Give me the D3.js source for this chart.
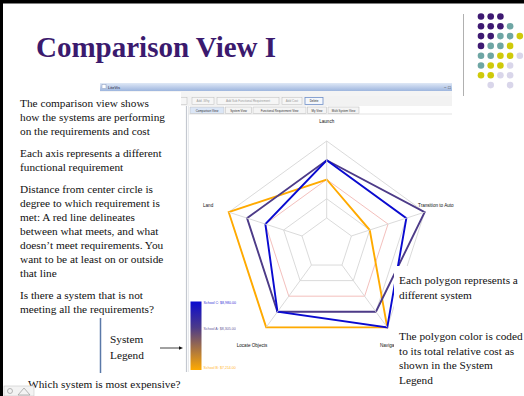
<!DOCTYPE html>
<html><head><meta charset="utf-8">
<script src="https://cdn.jsdelivr.net/npm/d3@7"></script>
<style>html,body{margin:0;padding:0;background:#fff;overflow:hidden}svg{display:block}</style>
</head><body>
<script>
// ---- data ----
const axes = ["Launch", "Transition to Auto", "Navigation", "Locate Objects", "Land"];
const systems = ["School B", "School A", "School C"];
const costs = [7214, 8305, 8980];
const schoolB = [2, 1, 4, 4, 4];
const schoolA = [3, 4, 3, 3, 3];
const schoolC = [3, 3, 4, 3, 2];
const levels = [0, 1, 2, 3, 4];
const redLevel = 2;
const tabs = ["Comparison View", "System View", "Functional Requirement View", "My View", "Multi System View"];
const buttons = ["Add -Why", "Add Sub Functional Requirement", "Add Cost", "Delete"];
const leftText = [
  ["The comparison view shows", "how the systems are performing", "on the requirements and cost"],
  ["Each axis represents a different", "functional requirement"],
  ["Distance from center circle is", "degree to which requirement is", "met:  A red line delineates", "between what meets, and what", "doesn\u2019t meet requirements.  You", "want to be at least on or outside", "that line"],
  ["Is there a system that is not", "meeting all the requirements?"]
];
const rightText = [
  ["Each polygon represents a", "different system"],
  ["The polygon color is coded", "to its total relative cost as", "shown in the System", "Legend"]
];
const dotRows = [
  ["p","p","p",null,null],
  ["p","p","p","t",null],
  ["p","p","t","t","y"],
  ["p","t","t","y",null],
  ["t","t","y","y","l"],
  ["t","y","y","l",null],
  ["y","y","l","l",null],
  [null,"l",null,"l",null]
];

const W = 524, H = 396;
const svg = d3.select("body").append("svg").attr("width", W).attr("height", H);
const defs = svg.append("defs");
const serif = "'Liberation Serif','Times New Roman',serif";
const sans = "'Liberation Sans',Arial,sans-serif";

// ---- application window ----
const tg = defs.append("linearGradient").attr("id","tb").attr("x1",0).attr("y1",0).attr("x2",0).attr("y2",1);
tg.append("stop").attr("offset",0).attr("stop-color","#dfe8f6");
tg.append("stop").attr("offset",1).attr("stop-color","#9db5de");
svg.append("rect").attr("x",100).attr("y",83).attr("width",352).attr("height",8).attr("fill","url(#tb)");
svg.append("rect").attr("x",102).attr("y",84.5).attr("width",4).attr("height",4).attr("fill","#fff").attr("stroke","#8899bb").attr("stroke-width",0.5);
svg.append("text").attr("x",108).attr("y",89).attr("font-family",sans).attr("font-size",4).attr("fill","#223").text("LiteVis");
svg.append("text").attr("x",444).attr("y",89).attr("font-family",sans).attr("font-size",4.5).attr("fill","#333").text("\u2212 \u25a1");
svg.append("rect").attr("x",100).attr("y",91).attr("width",352).attr("height",5).attr("fill","#f4f4f4");
svg.append("text").attr("x",103).attr("y",95).attr("font-family",sans).attr("font-size",3.5).attr("fill","#333").text("File");
svg.append("rect").attr("x",100).attr("y",96).attr("width",352).attr("height",300).attr("fill","#ffffff");
svg.append("rect").attr("x",100).attr("y",96).attr("width",352).attr("height",10).attr("fill","#f2f2f2");

// buttons
const btnX = d3.scaleOrdinal().domain(buttons).range([192, 217, 282, 305]);
const btnW = d3.scaleOrdinal().domain(buttons).range([22, 62, 20, 18]);
const bg = svg.append("g");
bg.append("rect").attr("x",178).attr("y",97.5).attr("width",9).attr("height",7).attr("fill","#f6f6f6").attr("stroke","#bbb").attr("stroke-width",0.5);
buttons.forEach((b,i)=>{
  bg.append("rect").attr("x",btnX(b)).attr("y",97.5).attr("width",btnW(b)).attr("height",7)
    .attr("fill", i===3 ? "#f4f7fc" : "#f6f6f6").attr("stroke", i===3 ? "#6f8fc8" : "#bbb").attr("stroke-width", i===3?0.8:0.5);
  bg.append("text").attr("x",btnX(b)+btnW(b)/2).attr("y",102.3).attr("text-anchor","middle")
    .attr("font-family",sans).attr("font-size",3).attr("fill", i===3 ? "#222" : "#999").text(b);
});
// tabs
const tabW = [34, 26, 53, 19, 31];
let tx = 190;
const tabG = svg.append("g");
tabs.forEach((t,i)=>{
  tabG.append("rect").attr("x",tx).attr("y",107).attr("width",tabW[i]).attr("height",6.5)
    .attr("fill", i===0 ? "#dbe6f6" : "#f4f4f4").attr("stroke","#b8b8b8").attr("stroke-width",0.5);
  tabG.append("text").attr("x",tx+tabW[i]/2).attr("y",111.6).attr("text-anchor","middle")
    .attr("font-family",sans).attr("font-size",2.9).attr("fill","#333").text(t);
  tx += tabW[i] + 1.5;
});
svg.append("line").attr("x1",188).attr("x2",452).attr("y1",114).attr("y2",114).attr("stroke","#d0d0d0").attr("stroke-width",0.6);
svg.append("line").attr("x1",186.5).attr("x2",186.5).attr("y1",106).attr("y2",372).attr("stroke","#c4c8d0").attr("stroke-width",1.2);
svg.append("line").attr("x1",188.5).attr("x2",188.5).attr("y1",106).attr("y2",372).attr("stroke","#e2e4e8").attr("stroke-width",0.8);

// ---- radar chart ----
const cx = 326.7, cy = 244;
const r = d3.scaleLinear().domain([0, 4]).range([26, 103]);
const ang = d3.scalePoint().domain(axes).range([0, 2*Math.PI*4/5]);
const pt = (a, v) => { const t = ang(a) - Math.PI/2; return [cx + r(v)*Math.cos(t), cy + r(v)*Math.sin(t)]; };
const radial = d3.lineRadial().curve(d3.curveLinearClosed);
const rg = svg.append("g").attr("transform", `translate(${cx},${cy})`);
levels.forEach(l => {
  rg.append("path").attr("d", radial(axes.map(a => [ang(a), r(l)])))
    .attr("fill","none").attr("stroke", l===redLevel ? "#f2b8b4" : "#d6d6d6").attr("stroke-width",0.9);
});
axes.forEach(a => {
  const p0 = pt(a, 0), p1 = pt(a, 4);
  svg.append("line").attr("x1",p0[0]).attr("y1",p0[1]).attr("x2",p1[0]).attr("y2",p1[1]).attr("stroke","#d6d6d6").attr("stroke-width",0.9);
});

const color = d3.scaleLinear().domain([costs[0], costs[1], costs[2]]).range(["#ffaa00", "#4d3b88", "#0a0ad0"]);
const seriesVals = [schoolB, schoolA, schoolC];
seriesVals.forEach((vals, i) => {
  rg.append("path").attr("d", radial(axes.map((a,k) => [ang(a), r(vals[k])])))
    .attr("fill","none").attr("stroke", color(costs[i])).attr("stroke-width",1.9).attr("stroke-linejoin","miter");
});

// axis labels
const lab = svg.append("g").attr("font-family",sans).attr("font-size",4.6).attr("fill","#111");
lab.append("text").attr("x",cx).attr("y",122.5).attr("text-anchor","middle").text(axes[0]);
lab.append("text").attr("x",418).attr("y",206.5).text(axes[1]);
lab.append("text").attr("x",380).attr("y",346.5).text(axes[2]);
lab.append("text").attr("x",252).attr("y",346.5).attr("text-anchor","middle").text(axes[3]);
lab.append("text").attr("x",203).attr("y",206.5).text(axes[4]);

// cost legend
const ly = d3.scaleLinear().domain([costs[2], costs[0]]).range([301.5, 370]);
const lgGrad = defs.append("linearGradient").attr("id","lg").attr("x1",0).attr("y1",0).attr("x2",0).attr("y2",1);
[costs[2], costs[1], costs[0]].forEach(c => {
  lgGrad.append("stop").attr("offset", (ly(c)-ly(costs[2]))/(ly(costs[0])-ly(costs[2]))).attr("stop-color", color(c));
});
svg.append("rect").attr("x",190.5).attr("y",ly(costs[2])).attr("width",11).attr("height",ly(costs[0])-ly(costs[2])).attr("fill","url(#lg)");
const fmt = d3.format("$,.2f");
systems.forEach((s,i) => {
  svg.append("text").attr("x",203.5).attr("y",ly(costs[i])+ (i===0 ? -1 : 2.5)).attr("font-family",sans).attr("font-size",3.6)
    .attr("fill", color(costs[i])).attr("opacity",0.85).text(`${s}: ${fmt(costs[i])}`);
});

// ---- slide overlay ----
svg.append("rect").attr("x",0).attr("y",92).attr("width",181).attr("height",304).attr("fill","#fff");
svg.append("rect").attr("x",394).attr("y",266).attr("width",130).attr("height",130).attr("fill","#fff");

svg.append("rect").attr("x",0).attr("y",0).attr("width",W).attr("height",3.5).attr("fill","#000");
svg.append("rect").attr("x",0).attr("y",0).attr("width",3).attr("height",H).attr("fill","#000");
svg.append("line").attr("x1",463.5).attr("x2",463.5).attr("y1",14).attr("y2",96).attr("stroke","#b0b0b0").attr("stroke-width",1);

const dotCol = {p:"#3e1a72", t:"#6ea6a4", y:"#cfca0a", l:"#d9d6ea"};
dotRows.forEach((row, i) => row.forEach((c, j) => {
  if (!c) return;
  svg.append("circle").attr("cx", 481 + j*9.7).attr("cy", 16.5 + i*9.8).attr("r", 3.3).attr("fill", dotCol[c]);
}));

svg.append("text").attr("x",36).attr("y",57).attr("font-family",serif).attr("font-weight","bold")
  .attr("font-size",29).attr("fill","#3b1a6e").text("Comparison View I");

const tfont = 11.3, lh = 14;
let y = 107;
const txt = svg.append("g").attr("font-family",serif).attr("font-size",tfont).attr("fill","#111");
leftText.forEach(par => {
  par.forEach(line => { txt.append("text").attr("x",20).attr("y",y).text(line); y += lh; });
  y += 8;
});
txt.append("text").attr("x",110).attr("y",343).text("System");
txt.append("text").attr("x",110).attr("y",359).text("Legend");
txt.append("text").attr("x",28).attr("y",388).text("Which system is most expensive?");
svg.append("line").attr("x1",100.5).attr("x2",100.5).attr("y1",318).attr("y2",373).attr("stroke","#5a78a8").attr("stroke-width",1.5);
svg.append("line").attr("x1",160).attr("x2",180).attr("y1",348).attr("y2",348).attr("stroke","#111").attr("stroke-width",0.8);
svg.append("path").attr("d","M183,348 L179,346.3 L179,349.7 Z").attr("fill","#111");

let y2 = 284;
rightText.forEach(par => {
  par.forEach(line => { txt.append("text").attr("x",399).attr("y",y2).text(line); y2 += 14.5; });
  y2 += 27;
});

// bottom-left nav icon
svg.append("rect").attr("x",4).attr("y",386).attr("width",30).attr("height",10).attr("fill","#f3f3f3").attr("stroke","#c8c8c8").attr("stroke-width",0.6);
svg.append("path").attr("d","M18,395 L24,388 L30,395 Z").attr("fill","none").attr("stroke","#999").attr("stroke-width",0.7);
svg.append("circle").attr("cx",10).attr("cy",391).attr("r",2.5).attr("fill","none").attr("stroke","#999").attr("stroke-width",0.7);
</script>
</body></html>
